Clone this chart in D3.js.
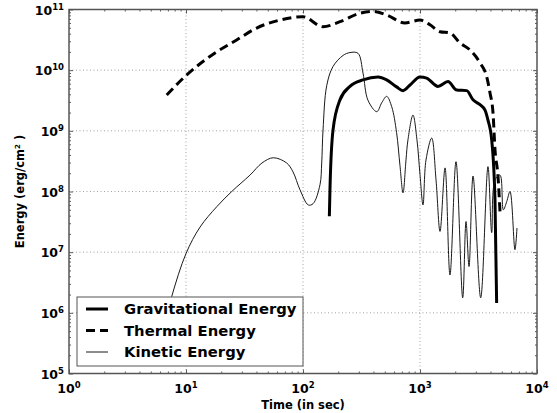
<!DOCTYPE html>
<head>
    <title>Energy vs time</title>
    <meta charset='utf-8'>
    <script type='text/javascript' src='https://cdn.jsdelivr.net/npm/d3@7'></script>
    <style>
        body { margin: 0; background: white; }
        text { font-family: 'DejaVu Sans', sans-serif; font-weight: bold; fill: black; }
    </style>
</head>
<body>
    <div id='chart'></div>
    <script>
    // ---------------- data (time in sec, energy in erg/cm^2) ----------------
    var gravT = [168, 170, 180.5, 207, 252, 326, 438, 519, 631, 716, 822, 1000, 1140, 1425, 1735, 2059, 2506, 2840, 3258, 3594, 3811, 4100, 4375, 4520];
    var gravE = [3.9e7, 1.07e8, 1.03e9, 3.24e9, 5.4e9, 6.9e9, 7.7e9, 6.9e9, 5.3e9, 4.6e9, 5.7e9, 7.7e9, 7.4e9, 5.4e9, 6.5e9, 4.7e9, 4.6e9, 3.24e9, 2.7e9, 2.2e9, 1.5e9, 7.1e8, 7.2e7, 1.45e6];

    var thermT = [6.84, 10.1, 17.7, 27.1, 40.2, 63.6, 100, 148, 207, 307, 397, 519, 744, 1000, 1217, 1483, 1804, 2198, 2674, 3258, 3715, 3967, 4207, 4375, 4645, 4830];
    var thermE = [3.9e9, 8.3e9, 1.92e10, 3.15e10, 4.95e10, 6.7e10, 7.6e10, 5.2e10, 6.3e10, 8.7e10, 9.3e10, 8.1e10, 6.0e10, 6.7e10, 5.6e10, 4.3e10, 4.1e10, 2.8e10, 2.15e10, 1.32e10, 7.8e9, 4.2e9, 1.98e9, 4.9e8, 1.74e8, 4.6e7];

    var kinT = [6.5, 7.55, 10, 13.2, 18.3, 24.6, 35.2, 44.6, 55.7, 72.5, 82.2, 94.2, 111, 122, 139.7, 144.5, 148.3, 159.6, 180.5, 220, 252, 295, 326, 359, 427, 471, 519, 573, 631, 674, 716, 759, 789, 871, 942, 1000, 1061, 1125, 1259, 1371, 1483, 1637, 1804, 2031, 2317, 2473, 2624, 2840, 3302, 3811, 4100, 4375, 4830, 5155, 5510, 5880, 6480, 6745];
    var kinE = [6e5, 1.86e6, 9.5e6, 2.6e7, 5.6e7, 1.0e8, 1.86e8, 2.95e8, 3.6e8, 2.95e8, 2.1e8, 1.07e8, 6.0e7, 6.3e7, 1.29e8, 2.95e8, 1.03e9, 5.6e9, 1.15e10, 1.75e10, 1.95e10, 1.9e10, 8.9e9, 3.2e9, 2.07e9, 2.9e9, 3.7e9, 2.5e9, 9.3e8, 2.7e8, 9.5e7, 3.3e8, 7.1e8, 1.82e9, 7.1e8, 1.9e8, 6.0e7, 3.3e8, 7.6e8, 1.55e8, 2.2e7, 2.45e8, 4.2e6, 3.1e8, 1.77e6, 3.2e7, 5.8e6, 1.8e8, 1.77e6, 2.57e8, 2.1e7, 1.55e8, 1.86e8, 5.0e7, 6.8e7, 1.0e8, 1.1e7, 2.5e7];

    var xDecades = [0, 1, 2, 3, 4];
    var yDecades = [5, 6, 7, 8, 9, 10, 11];
    var legendLabels = ['Gravitational Energy', 'Thermal Energy', 'Kinetic Energy'];

    // ---------------- svg ----------------
    var margin = {left: 69, right: 20, top: 9.5, bottom: 39.5};
    var W = 557, H = 413;
    const svg = d3.select('#chart').append('svg')
        .attr('width', W)
        .attr('height', H);

    var x = d3.scaleLog().domain([1, 1e4]).range([margin.left, W - margin.right]);
    var y = d3.scaleLog().domain([1e5, 1e11]).range([H - margin.bottom, margin.top]);
    var x0 = x.range()[0], x1 = x.range()[1], y0 = y.range()[0], y1 = y.range()[1];

    svg.append('defs').append('clipPath').attr('id', 'clip')
        .append('rect').attr('x', x0).attr('y', y1).attr('width', x1 - x0).attr('height', y0 - y1);

    // grid
    var grid = svg.append('g').attr('stroke', '#8a8a8a').attr('stroke-width', 0.8).attr('stroke-dasharray', '1,2.5');
    xDecades.slice(1, -1).forEach(function (d) {
        grid.append('line').attr('x1', x(Math.pow(10, d))).attr('x2', x(Math.pow(10, d)))
            .attr('y1', y0).attr('y2', y1);
    });
    yDecades.slice(1, -1).forEach(function (d) {
        grid.append('line').attr('y1', y(Math.pow(10, d))).attr('y2', y(Math.pow(10, d)))
            .attr('x1', x0).attr('x2', x1);
    });

    // ticks (inward, mirrored)
    var minorX = [], minorY = [];
    xDecades.slice(0, -1).forEach(function (d) { for (var k = 2; k < 10; k++) minorX.push(k * Math.pow(10, d)); });
    yDecades.slice(0, -1).forEach(function (d) { for (var k = 2; k < 10; k++) minorY.push(k * Math.pow(10, d)); });
    var majorX = xDecades.map(function (d) { return Math.pow(10, d); });
    var majorY = yDecades.map(function (d) { return Math.pow(10, d); });

    function ticks(g, axis, vals, len) {
        g.append('g').attr('transform', axis.tr).call(axis.gen.tickValues(vals).tickSize(len).tickFormat(''))
            .call(function (s) { s.select('.domain').remove(); s.selectAll('line').attr('stroke', '#333').attr('stroke-width', 0.8); });
    }
    var tg = svg.append('g');
    [[majorX, -4], [minorX, -2]].forEach(function (p) {
        ticks(tg, {gen: d3.axisBottom(x), tr: 'translate(0,' + y0 + ')'}, p[0], p[1]);
        ticks(tg, {gen: d3.axisTop(x), tr: 'translate(0,' + y1 + ')'}, p[0], p[1]);
    });
    [[majorY, -4], [minorY, -2]].forEach(function (p) {
        ticks(tg, {gen: d3.axisLeft(y), tr: 'translate(' + x0 + ',0)'}, p[0], p[1]);
        ticks(tg, {gen: d3.axisRight(y), tr: 'translate(' + x1 + ',0)'}, p[0], p[1]);
    });

    // tick labels
    xDecades.forEach(function (d) {
        var t = svg.append('text').attr('x', x(Math.pow(10, d))).attr('y', 393)
            .attr('text-anchor', 'middle').attr('font-size', 12.5);
        t.append('tspan').text('10');
        t.append('tspan').attr('dy', -5).attr('font-size', 8.5).text(d);
    });
    yDecades.forEach(function (d) {
        var t = svg.append('text').attr('x', 64).attr('y', y(Math.pow(10, d)) + 5)
            .attr('text-anchor', 'end').attr('font-size', 12.5);
        t.append('tspan').text('10');
        t.append('tspan').attr('dy', -5).attr('font-size', 8.5).text(d);
    });

    // axis labels
    svg.append('text').attr('x', (x0 + x1) / 2).attr('y', 409).attr('text-anchor', 'middle')
        .attr('font-size', 11.5).text('Time (in sec)');
    var yl = svg.append('text').attr('transform', 'translate(24,' + ((y0 + y1) / 2) + ') rotate(-90)')
        .attr('text-anchor', 'middle').attr('font-size', 11.5);
    yl.append('tspan').text('Energy (erg/cm');
    yl.append('tspan').attr('dy', -4).attr('font-size', 7).text('2');
    yl.append('tspan').attr('dy', 4).text(' )');

    // curves
    var px = function (d) { return x(d[0]); }, py = function (d) { return y(d[1]); };
    var plot = svg.append('g').attr('clip-path', 'url(#clip)').attr('fill', 'none');
    var series = [
        {t: gravT, e: gravE, w: 3, dash: null, c: 'black', curve: d3.curveMonotoneX},
        {t: thermT, e: thermE, w: 3, dash: '9,5', c: 'black', curve: d3.curveMonotoneX},
        {t: kinT, e: kinE, w: 1, dash: null, c: '#1a1a1a', curve: d3.curveCatmullRom.alpha(0.5)}
    ];
    series.forEach(function (s) {
        plot.append('path').datum(d3.zip(s.t, s.e))
            .attr('d', d3.line().x(px).y(py).curve(s.curve))
            .attr('stroke', s.c).attr('stroke-width', s.w)
            .attr('stroke-dasharray', s.dash).attr('stroke-linejoin', 'round');
    });

    // legend
    var lg = svg.append('g');
    lg.append('rect').attr('x', 77).attr('y', 297).attr('width', 226).attr('height', 69)
        .attr('fill', 'white').attr('stroke', '#555').attr('stroke-width', 1);
    legendLabels.forEach(function (lab, i) {
        var yy = 309 + i * 21.5, s = series[i];
        lg.append('line').attr('x1', 86).attr('x2', 108).attr('y1', yy).attr('y2', yy)
            .attr('stroke', s.c).attr('stroke-width', s.w).attr('stroke-dasharray', s.dash);
        lg.append('text').attr('x', 124).attr('y', yy + 5).attr('font-size', 14.8).text(lab);
    });

    // frame
    svg.append('rect').attr('x', x0).attr('y', y1).attr('width', x1 - x0).attr('height', y0 - y1)
        .attr('fill', 'none').attr('stroke', '#555').attr('stroke-width', 1.5);
    </script>
</body>
</html>
